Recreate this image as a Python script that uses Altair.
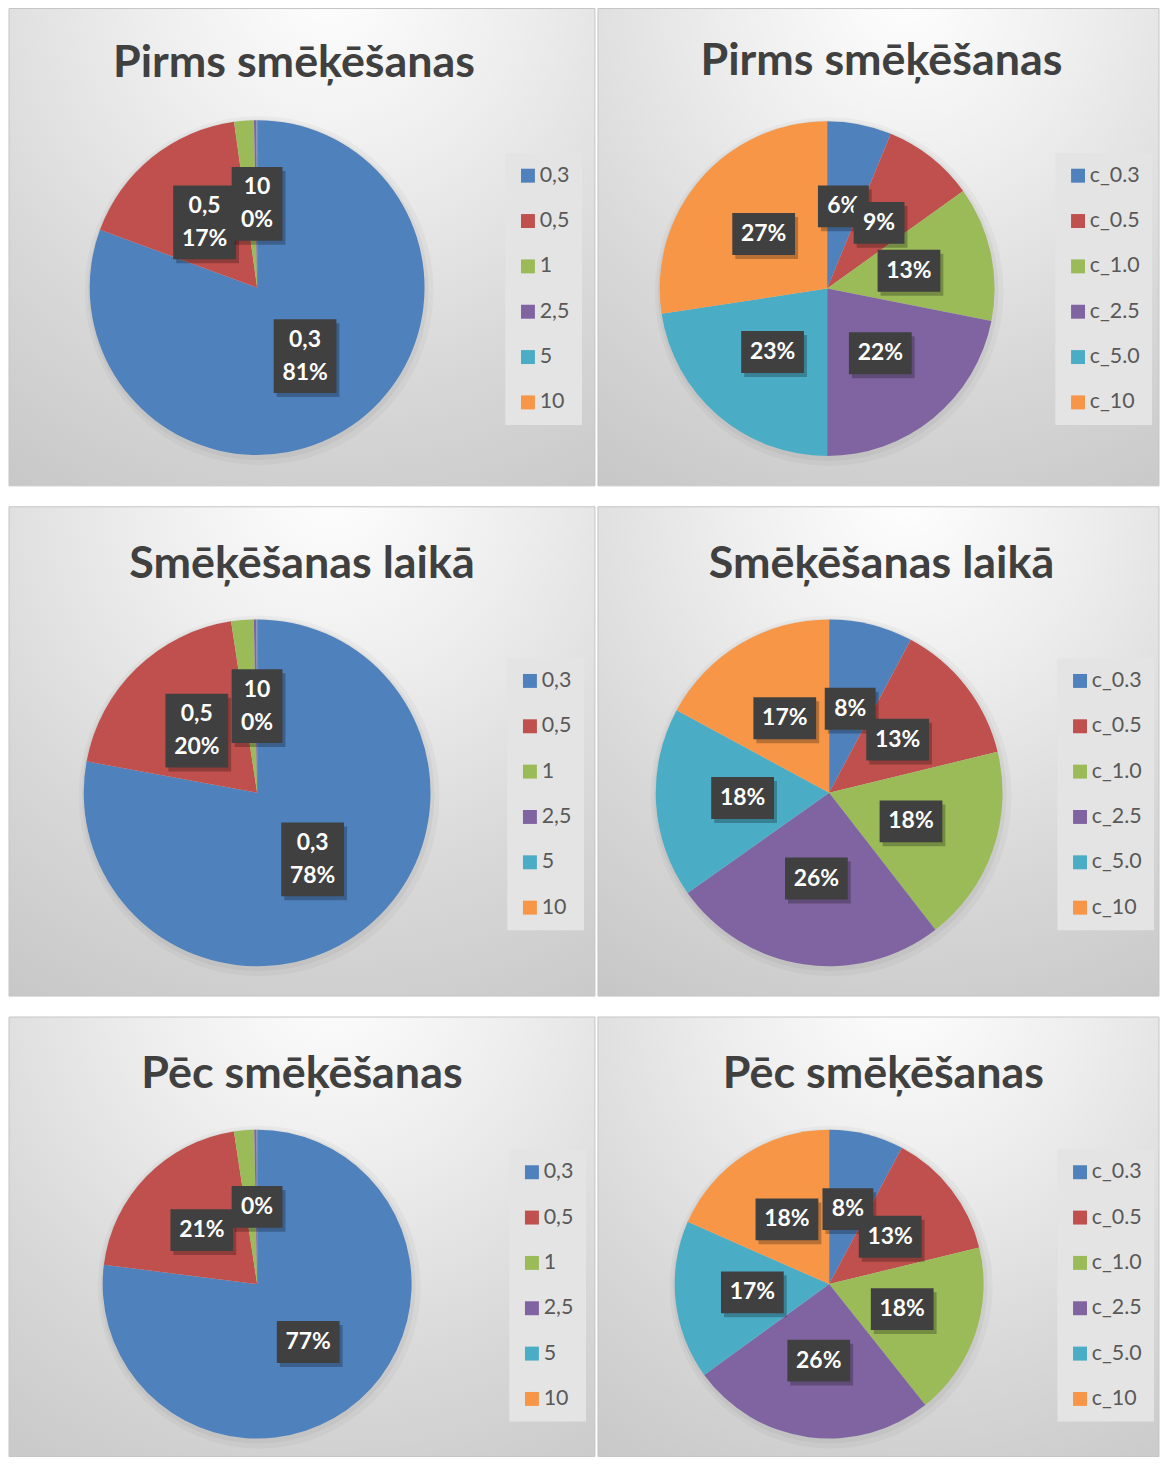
import altair as alt
import pandas as pd

# ---------------- data ----------------
categories_left = ["0,3", "0,5", "1", "2,5", "5", "10"]
categories_right = ["c_0.3", "c_0.5", "c_1.0", "c_2.5", "c_5.0", "c_10"]
palette = ["#4F81BD", "#C0504D", "#9BBB59", "#8064A2", "#4BACC6", "#F79646"]

title_before = "Pirms smēķēšanas"
title_during = "Smēķēšanas laikā"
title_after = "Pēc smēķēšanas"

# shares (percent), clockwise from 12 o'clock
left_before = [80.6, 17.2, 1.9, 0.25, 0.03, 0.02]
left_during = [77.9, 19.7, 2.1, 0.25, 0.03, 0.02]
left_after = [77.0, 20.6, 2.1, 0.25, 0.03, 0.02]
right_before = [6.2, 8.9, 13.0, 21.9, 22.6, 27.4]
right_during = [7.8, 13.4, 18.3, 25.7, 17.7, 17.1]
right_after = [7.8, 13.4, 18.1, 25.7, 16.6, 18.4]

# which slices carry a data label
left_labelled = [True, True, False, False, False, True]
right_labelled = [True, True, True, True, True, True]

FONT = "Lato"
BOX_UNIT = 74.0
LINE_H = 33


def box_path(label):
    lines = label.split("\n")
    bw = 63 if max(len(s) for s in lines) >= 3 else 51
    bh = 42 if len(lines) == 1 else 74
    hx = bw / BOX_UNIT
    hy = bh / BOX_UNIT
    return f"M{-hx:.3f},{-hy:.3f}H{hx:.3f}V{hy:.3f}H{-hx:.3f}Z"


def background():
    return alt.RadialGradient(
        gradient="radial",
        x1=0.55, y1=0.05, r1=0.0,
        x2=0.55, y2=0.05, r2=1.05,
        stops=[
            alt.GradientStop(offset=0.0, color="#fefefe"),
            alt.GradientStop(offset=0.3, color="#eeeeee"),
            alt.GradientStop(offset=0.65, color="#d8d8d8"),
            alt.GradientStop(offset=1.0, color="#c6c6c6"),
        ],
    )


def panel(title, cats, values, labelled, with_names, w, h, cx, cy, r,
          title_base, title_dx, lx, ly):
    total = sum(values)
    recs = []
    for i, (c, v) in enumerate(zip(cats, values)):
        pct = f"{round(v / total * 100)}%"
        recs.append({"idx": i, "cat": c, "value": v,
                     "label": f"{c}\n{pct}" if with_names else pct})
    df = pd.DataFrame(recs)
    base = alt.Chart(df)
    one = base.transform_filter("datum.idx == 0")

    legend = alt.Legend(
        title=None, orient="none", legendX=lx, legendY=ly,
        labelFont=FONT, labelFontSize=21.5, labelColor="#595959",
        symbolType="square", symbolSize=196, symbolStrokeWidth=0,
        symbolOpacity=1, fillColor="#e4e4e4", padding=12,
        rowPadding=22.5, labelOffset=1,
    )

    bg = one.mark_rect(
        color=background(), stroke="#c6c6c6", strokeWidth=1
    ).encode(x=alt.value(0), x2=alt.value(w), y=alt.value(0), y2=alt.value(h))

    head = one.mark_text(
        text=title, font=FONT, fontSize=45, fontWeight="bold",
        color="#404040", align="center", baseline="alphabetic"
    ).encode(x=alt.value(w / 2 + title_dx), y=alt.value(title_base))

    halo1 = one.mark_arc(
        theta=0, theta2=6.2832, radius=r + 7, color="#000000", opacity=0.03
    ).encode(x=alt.value(cx + 2), y=alt.value(cy + 3))
    halo2 = one.mark_arc(
        theta=0, theta2=6.2832, radius=r + 3, color="#000000", opacity=0.04
    ).encode(x=alt.value(cx + 1), y=alt.value(cy + 2))

    pie = base.mark_arc(radius=r).encode(
        theta=alt.Theta("value:Q", stack=True),
        color=alt.Color("cat:N", scale=alt.Scale(domain=cats, range=palette),
                        legend=legend),
        order=alt.Order("idx:Q"),
        x=alt.value(cx),
        y=alt.value(cy),
    )

    lr = r * 0.5
    placed = base.transform_window(
        cum="sum(value)", sort=[alt.SortField("idx", order="ascending")],
        frame=[None, 0]
    ).transform_joinaggregate(
        tot="sum(value)"
    ).transform_calculate(
        ang="2*PI*(datum.cum - datum.value/2)/datum.tot"
    ).transform_calculate(
        px=f"{cx} + {lr}*sin(datum.ang)",
        py=f"{cy} - {lr}*cos(datum.ang)",
    )

    enc = dict(x=alt.X("px:Q", scale=None, axis=None),
               y=alt.Y("py:Q", scale=None, axis=None))

    layers = [bg, head, halo1, halo2, pie]
    for i, rec in enumerate(recs):
        if not labelled[i]:
            continue
        shape = box_path(rec["label"])
        n_lines = len(rec["label"].split("\n"))
        sel = placed.transform_filter(f"datum.idx == {i}")
        layers.append(sel.mark_point(
            shape=shape, size=BOX_UNIT * BOX_UNIT, filled=True,
            color="#000000", opacity=0.25, strokeWidth=0, xOffset=3, yOffset=4
        ).encode(**enc))
        layers.append(sel.mark_point(
            shape=shape, size=BOX_UNIT * BOX_UNIT, filled=True,
            color="#404040", opacity=1, strokeWidth=0
        ).encode(**enc))
        layers.append(sel.mark_text(
            font=FONT, fontSize=23, fontWeight="bold", color="#ffffff",
            lineBreak="\n", lineHeight=LINE_H, align="center",
            baseline="middle", dy=-(n_lines - 1) * LINE_H / 2
        ).encode(text="label:N", **enc))

    return alt.layer(*layers).properties(
        width=w, height=h,
        view=alt.ViewBackground(stroke=None),
    )


WL, WR = 588, 563
H1, H2, H3 = 479, 491, 441

p1 = panel(title_before, categories_left, left_before, left_labelled, True,
           WL, H1, 249, 280, 168, 69, -8, 498, 145)
p2 = panel(title_before, categories_right, right_before, right_labelled, False,
           WR, H1, 230, 281, 168, 67, 3, 459, 145)
p3 = panel(title_during, categories_left, left_during, left_labelled, True,
           WL, H2, 249, 287, 174, 71, 0, 500, 152)
p4 = panel(title_during, categories_right, right_during, right_labelled, False,
           WR, H2, 232, 287, 174, 71, 3, 461, 152)
p5 = panel(title_after, categories_left, left_after, left_labelled, False,
           WL, H3, 249, 268, 155, 71, 0, 502, 133)
p6 = panel(title_after, categories_right, right_after, right_labelled, False,
           WR, H3, 232, 268, 155, 71, 5, 461, 133)


def row(a, b):
    return alt.hconcat(a, b, spacing=1).resolve_scale(color="independent")


chart = alt.vconcat(
    row(p1, p2), row(p3, p4), row(p5, p6), spacing=19,
    padding={"left": 0, "top": -3, "right": 0, "bottom": 0},
).resolve_scale(color="independent").configure(background="#ffffff")

chart.save("out.html", embed_options={"renderer": "svg", "actions": False})
